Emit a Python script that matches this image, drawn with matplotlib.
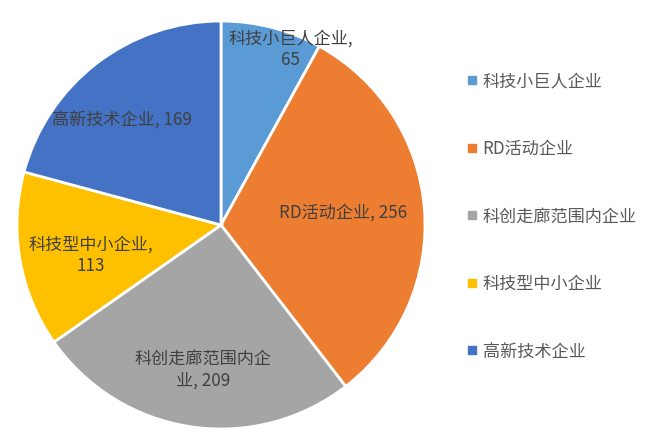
import numpy as np
import matplotlib.pyplot as plt

plt.rcParams['font.family'] = ['Noto Sans CJK SC', 'DejaVu Sans']

categories = ["科技小巨人企业", "RD活动企业", "科创走廊范围内企业", "科技型中小企业", "高新技术企业"]
values = [65, 256, 209, 113, 169]
label_texts = ["科技小巨人企业,\n65", "RD活动企业, 256", "科创走廊范围内企\n业, 209",
               "科技型中小企业,\n113", "高新技术企业, 169"]
colors = ["#5B9BD5", "#ED7D31", "#A5A5A5", "#FFC000", "#4472C4"]

# where the data labels sit, in pie-radius units
label_xy = [(0.34, 0.86), (0.60, 0.06), (-0.09, -0.71), (-0.64, -0.15), (-0.485, 0.51)]

fig = plt.figure(figsize=(6.59, 4.48), dpi=100)
ax = fig.add_axes([17 / 659, 19 / 448, 408 / 659, 408 / 448])

wedges, _ = ax.pie(values, colors=colors, startangle=90, counterclock=False,
                   radius=1.0, wedgeprops=dict(edgecolor="white", linewidth=2))
ax.set_xlim(-1, 1)
ax.set_ylim(-1, 1)
ax.set_aspect("equal")
ax.axis("off")

for txt, (x, y) in zip(label_texts, label_xy):
    ax.text(x, y, txt, ha="center", va="center", fontsize=12.3,
            color="#404040", linespacing=1.25)

handles = [plt.Line2D([], [], marker="s", linestyle="", markersize=5.5,
                      markerfacecolor=c, markeredgecolor=c) for c in colors]
fig.legend(handles, categories, loc="center left", bbox_to_anchor=(451 / 659, 0.517),
           frameon=False, fontsize=12.3, labelcolor="#595959",
           handlelength=0.6, handletextpad=0.35, labelspacing=2.9)

fig.savefig("out.png", dpi=100)
